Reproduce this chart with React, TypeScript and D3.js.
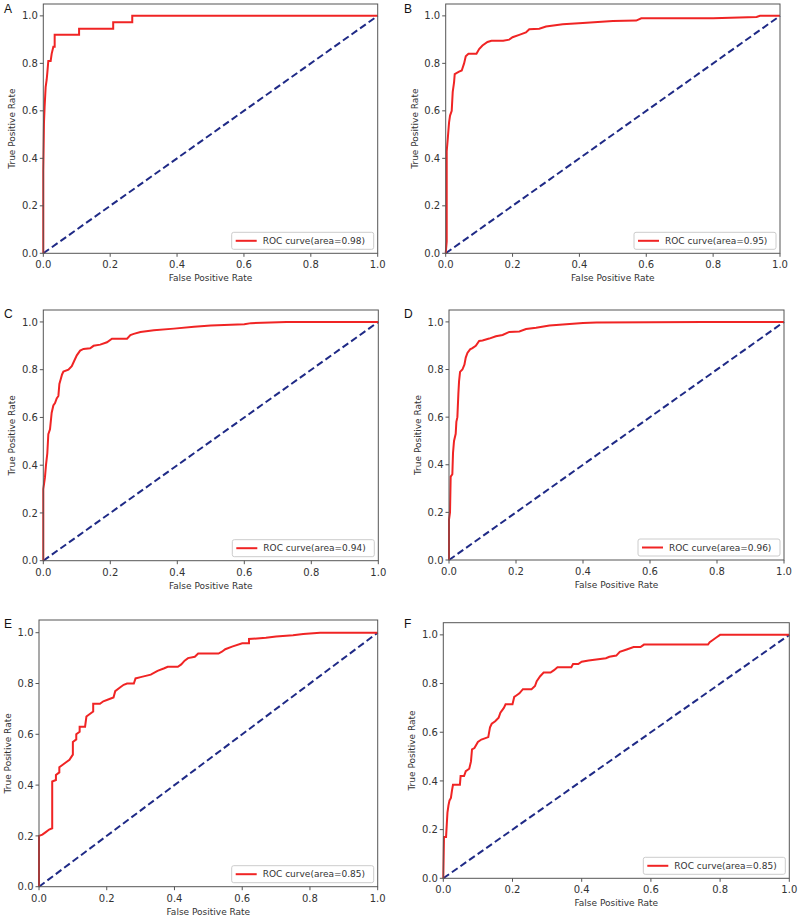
import React from "react";
import * as d3 from "d3";

// ---------- DATA ----------
const panelLetters = ["A", "B", "C", "D", "E", "F"];
const aucLabels = ["0.98", "0.95", "0.94", "0.96", "0.85", "0.85"];
const tickValues = [0, 0.2, 0.4, 0.6, 0.8, 1.0];

const fprA = [0, 0, 0.002, 0.004, 0.007, 0.01, 0.012, 0.015, 0.022, 0.025, 0.03, 0.034, 0.034, 0.107, 0.107, 0.209, 0.209, 0.266, 0.266, 1];
const tprA = [0, 0.35, 0.55, 0.62, 0.7, 0.73, 0.76, 0.81, 0.81, 0.84, 0.87, 0.87, 0.92, 0.92, 0.946, 0.946, 0.973, 0.973, 1.0, 1.0];

const fprB = [0, 0.003, 0.003, 0.006, 0.01, 0.013, 0.018, 0.021, 0.025, 0.027, 0.04, 0.048, 0.055, 0.06, 0.068, 0.092, 0.1, 0.11, 0.125, 0.137, 0.172, 0.19, 0.2, 0.22, 0.24, 0.25, 0.28, 0.3, 0.35, 0.41, 0.5, 0.57, 0.585, 0.8, 0.93, 0.94, 1];
const tprB = [0, 0.05, 0.43, 0.48, 0.55, 0.58, 0.6, 0.68, 0.72, 0.755, 0.765, 0.77, 0.8, 0.83, 0.84, 0.84, 0.86, 0.875, 0.89, 0.895, 0.895, 0.9, 0.91, 0.92, 0.93, 0.944, 0.946, 0.955, 0.965, 0.97, 0.978, 0.98, 0.99, 0.99, 0.995, 1.0, 1.0];

const fprC = [0, 0, 0.005, 0.008, 0.012, 0.015, 0.02, 0.025, 0.03, 0.035, 0.04, 0.045, 0.048, 0.052, 0.056, 0.06, 0.075, 0.085, 0.09, 0.1, 0.11, 0.12, 0.14, 0.15, 0.17, 0.19, 0.205, 0.25, 0.26, 0.27, 0.29, 0.33, 0.39, 0.45, 0.5, 0.6, 0.62, 0.726, 1];
const tprC = [0, 0.3, 0.35, 0.4, 0.45, 0.53, 0.55, 0.62, 0.65, 0.66, 0.68, 0.69, 0.74, 0.76, 0.78, 0.792, 0.8, 0.815, 0.83, 0.86, 0.88, 0.887, 0.89, 0.9, 0.905, 0.915, 0.93, 0.93, 0.945, 0.95, 0.958, 0.965, 0.972, 0.98, 0.985, 0.99, 0.995, 1.0, 1.0];

const fprD = [0, 0, 0.003, 0.005, 0.01, 0.012, 0.015, 0.02, 0.022, 0.025, 0.028, 0.03, 0.033, 0.04, 0.046, 0.05, 0.055, 0.063, 0.07, 0.08, 0.09, 0.1, 0.12, 0.14, 0.16, 0.18, 0.21, 0.23, 0.26, 0.3, 0.35, 0.4, 0.44, 0.76, 1];
const tprD = [0, 0.17, 0.2, 0.35, 0.36, 0.45, 0.5, 0.53, 0.58, 0.6, 0.7, 0.75, 0.79, 0.8, 0.82, 0.85, 0.87, 0.885, 0.89, 0.9, 0.92, 0.922, 0.93, 0.94, 0.945, 0.958, 0.96, 0.97, 0.975, 0.985, 0.99, 0.995, 0.997, 1.0, 1.0];

const fprE = [0, 0, 0.01, 0.02, 0.03, 0.039, 0.039, 0.05, 0.05, 0.06, 0.06, 0.07, 0.08, 0.09, 0.095, 0.1, 0.1, 0.11, 0.11, 0.12, 0.12, 0.136, 0.14, 0.15, 0.16, 0.16, 0.18, 0.19, 0.21, 0.22, 0.225, 0.24, 0.25, 0.26, 0.28, 0.285, 0.3, 0.33, 0.35, 0.37, 0.38, 0.41, 0.42, 0.43, 0.44, 0.46, 0.47, 0.53, 0.54, 0.55, 0.57, 0.6, 0.62, 0.62, 0.67, 0.7, 0.75, 0.78, 0.83, 1];
const tprE = [0, 0.2, 0.205, 0.215, 0.225, 0.23, 0.414, 0.42, 0.44, 0.45, 0.47, 0.48, 0.49, 0.5, 0.51, 0.52, 0.57, 0.58, 0.6, 0.61, 0.63, 0.63, 0.67, 0.68, 0.69, 0.72, 0.72, 0.73, 0.74, 0.745, 0.77, 0.785, 0.795, 0.8, 0.8, 0.82, 0.825, 0.835, 0.85, 0.86, 0.866, 0.866, 0.875, 0.89, 0.9, 0.905, 0.918, 0.918, 0.925, 0.935, 0.945, 0.958, 0.958, 0.975, 0.98, 0.985, 0.99, 0.995, 1.0, 1.0];

const fprF = [0, 0.002, 0.008, 0.01, 0.012, 0.015, 0.018, 0.022, 0.025, 0.028, 0.048, 0.05, 0.06, 0.065, 0.075, 0.08, 0.083, 0.09, 0.1, 0.11, 0.12, 0.13, 0.135, 0.14, 0.15, 0.16, 0.165, 0.175, 0.18, 0.2, 0.205, 0.21, 0.22, 0.23, 0.255, 0.265, 0.27, 0.28, 0.29, 0.31, 0.32, 0.33, 0.37, 0.375, 0.39, 0.4, 0.42, 0.47, 0.48, 0.5, 0.51, 0.53, 0.55, 0.57, 0.58, 0.765, 0.77, 0.78, 0.79, 0.8, 1];
const tprF = [0, 0.17, 0.17, 0.22, 0.27, 0.3, 0.32, 0.33, 0.36, 0.384, 0.384, 0.42, 0.42, 0.44, 0.45, 0.48, 0.53, 0.535, 0.56, 0.57, 0.575, 0.58, 0.62, 0.635, 0.645, 0.66, 0.68, 0.7, 0.715, 0.715, 0.745, 0.75, 0.76, 0.777, 0.777, 0.79, 0.81, 0.83, 0.845, 0.845, 0.855, 0.867, 0.867, 0.88, 0.88, 0.89, 0.895, 0.904, 0.91, 0.915, 0.93, 0.94, 0.95, 0.95, 0.96, 0.96, 0.97, 0.98, 0.99, 1.0, 1.0];

const fprSeries = [fprA, fprB, fprC, fprD, fprE, fprF];
const tprSeries = [tprA, tprB, tprC, tprD, tprE, tprF];

// ---------- LAYOUT ----------
const frames = [
  { left: 43.3, right: 377.7, top: 4, bottom: 253.3, lx: 4, ly: 13 },
  { left: 445.7, right: 780, top: 4, bottom: 253.3, lx: 404, ly: 13 },
  { left: 43.3, right: 378.3, top: 310, bottom: 560.7, lx: 4, ly: 318 },
  { left: 449, right: 784, top: 310, bottom: 560, lx: 404, ly: 318 },
  { left: 39, right: 377.7, top: 620, bottom: 886.7, lx: 4, ly: 628 },
  { left: 443.3, right: 789.3, top: 622.7, bottom: 878.3, lx: 404, ly: 628 },
];

const RED = "#f02424";
const NAVY = "#1f2a86";
const TEXT = "#333";
const FONT = "DejaVu Sans, sans-serif";

function Panel({ i }: { i: number }) {
  const f = frames[i];
  const x = d3.scaleLinear().domain([0, 1]).range([f.left, f.right]);
  const y = d3.scaleLinear().domain([0, 1.05]).range([f.bottom, f.top]);
  const pts: [number, number][] = fprSeries[i].map((v, k) => [v, tprSeries[i][k]]);
  const line = d3
    .line<[number, number]>()
    .x((d) => x(d[0]))
    .y((d) => y(d[1]));
  const legendText = `ROC curve(area=${aucLabels[i]})`;
  const lgW = 142;
  const lgH = 17;
  const lgX = f.right - 4 - lgW;
  const lgY = f.bottom - 4 - lgH;
  const midY = (f.top + f.bottom) / 2;
  const midX = (f.left + f.right) / 2;
  return (
    <g>
      <text x={f.lx} y={f.ly} fontFamily="Liberation Sans, Arial, sans-serif" fontSize={12} fill="#111">
        {panelLetters[i]}
      </text>
      <path d={line([[0, 0], [1, 1]]) || ""} fill="none" stroke={NAVY} strokeWidth={2} strokeDasharray="7,3.5" />
      <path d={line(pts) || ""} fill="none" stroke={RED} strokeWidth={2} strokeLinejoin="miter" />
      <rect x={f.left} y={f.top} width={f.right - f.left} height={f.bottom - f.top} fill="none" stroke="#555" strokeWidth={1} />
      {tickValues.map((t) => (
        <g key={"x" + t}>
          <line x1={x(t)} x2={x(t)} y1={f.bottom} y2={f.bottom + 3.5} stroke="#555" />
          <text x={x(t)} y={f.bottom + 15} textAnchor="middle" fontFamily={FONT} fontSize={10} fill={TEXT}>
            {t.toFixed(1)}
          </text>
        </g>
      ))}
      {tickValues.map((t) => (
        <g key={"y" + t}>
          <line x1={f.left - 3.5} x2={f.left} y1={y(t)} y2={y(t)} stroke="#555" />
          <text x={f.left - 5.5} y={y(t) + 3.6} textAnchor="end" fontFamily={FONT} fontSize={10} fill={TEXT}>
            {t.toFixed(1)}
          </text>
        </g>
      ))}
      <text x={midX} y={f.bottom + 28} textAnchor="middle" fontFamily={FONT} fontSize={9} fill={TEXT}>
        False Positive Rate
      </text>
      <text
        transform={`translate(${f.left - 28},${midY}) rotate(-90)`}
        textAnchor="middle"
        fontFamily={FONT}
        fontSize={9}
        fill={TEXT}
      >
        True Positive Rate
      </text>
      <rect x={lgX} y={lgY} width={lgW} height={lgH} rx={2} fill="white" fillOpacity={0.85} stroke="#ccc" />
      <line x1={lgX + 4} x2={lgX + 25} y1={lgY + lgH / 2} y2={lgY + lgH / 2} stroke={RED} strokeWidth={2} />
      <text x={lgX + 31} y={lgY + lgH / 2 + 3.2} fontFamily={FONT} fontSize={9} fill={TEXT}>
        {legendText}
      </text>
    </g>
  );
}

export default function App() {
  return (
    <svg width={800} height={918} style={{ position: "absolute", left: 0, top: 0, background: "white" }}>
      <rect width={800} height={918} fill="white" />
      {frames.map((_, i) => (
        <Panel key={i} i={i} />
      ))}
    </svg>
  );
}
